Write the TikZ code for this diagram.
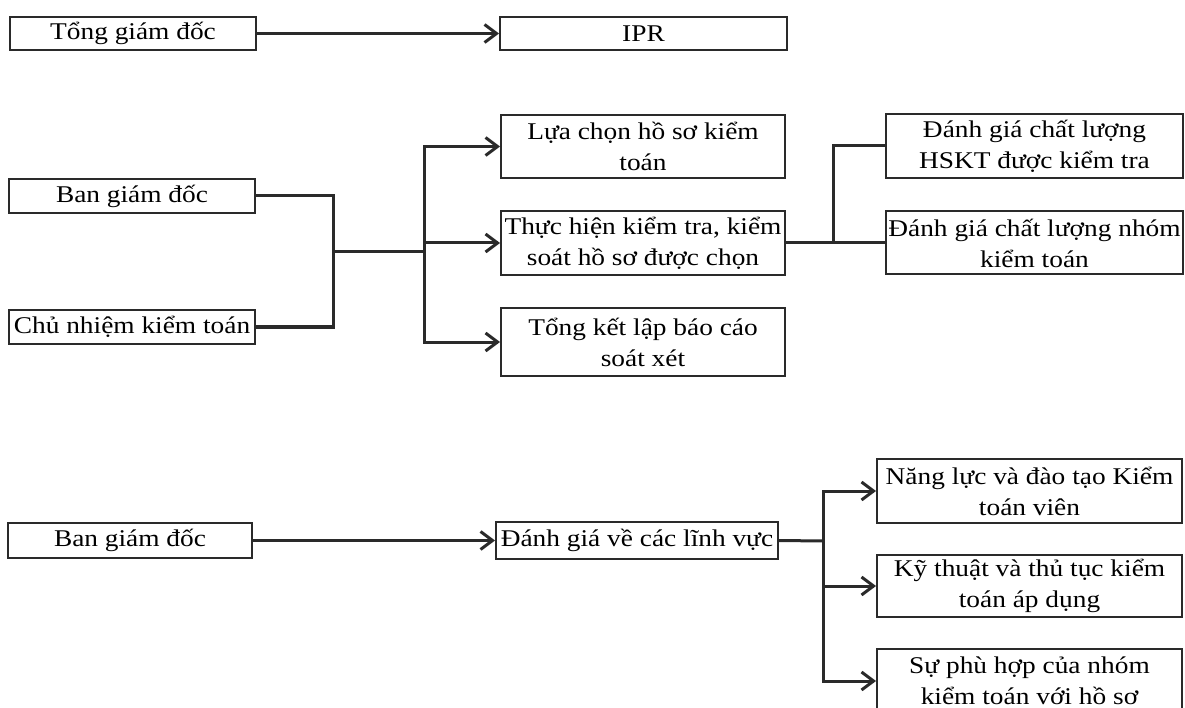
\documentclass[tikz,border=0pt]{standalone}
\usepackage{fontspec}
\setmainfont{Liberation Serif}[FakeStretch=1.14]
\usepackage{tikz}
\usetikzlibrary{arrows.meta}
\definecolor{ink}{HTML}{2A2A2A}

\begin{document}
\begin{tikzpicture}[x=1pt, y=-1pt,
		box/.style={draw=ink, line width=2pt, inner sep=0pt, align=center, font=\fontsize{24}{31}\selectfont},
		link/.style={draw=ink, line width=3pt, line cap=rect},
		arr/.style={link, -{Straight Barb[length=12pt, width=18pt]}}]
			\useasboundingbox (0,0) rectangle (1185,708);

			\node [box, minimum width=246pt, minimum height=33pt] (tgd) at (133,33.5) {Tổng giám đốc};
			\node [box, minimum width=287pt, minimum height=33pt] (ipr) at (643.5,33.5) {IPR};

			\node [box, minimum width=246pt, minimum height=34pt] (bgdA) at (132,196) {Ban giám đốc};
			\node [box, minimum width=246pt, minimum height=34pt] (cnkt) at (132,327) {Chủ nhiệm kiểm toán};
			\node [box, minimum width=284pt, minimum height=63pt] (lcs) at (643,146.5) {Lựa chọn hồ sơ kiểm\\toán};
			\node [box, minimum width=284pt, minimum height=64pt] (thkt) at (643,243) {Thực hiện kiểm tra, kiểm\\soát hồ sơ được chọn};
			\node [box, minimum width=284pt, minimum height=68pt] (tkbc) at (643,342) {Tổng kết lập báo cáo\\soát xét};
			\node [box, minimum width=297pt, minimum height=64pt] (dgA) at (1034.5,146) {Đánh giá chất lượng\\HSKT được kiểm tra};
			\node [box, minimum width=297pt, minimum height=63pt] (dgB) at (1034.5,243) {Đánh giá chất lượng nhóm\\kiểm toán};

			\node [box, minimum width=244pt, minimum height=35pt] (bgdB) at (130,540.5) {Ban giám đốc};
			\node [box, minimum width=282pt, minimum height=37pt] (dglv) at (637,540.5) {Đánh giá về các lĩnh vực};
			\node [box, minimum width=305pt, minimum height=64pt] (nlkt) at (1029.5,491) {Năng lực và đào tạo Kiểm\\toán viên};
			\node [box, minimum width=305pt, minimum height=62pt] (ktta) at (1029.5,586) {Kỹ thuật và thủ tục kiểm\\toán áp dụng};
			\node [box, minimum width=305pt, minimum height=64pt] (sph) at (1029.5,681) {Sự phù hợp của nhóm\\kiểm toán với hồ sơ};

			\draw [arr] (tgd.east) to (ipr.west);

			\coordinate (jA) at (333,252);
			\coordinate (jB) at (424,252);
			\draw [link] (bgdA.east) -| (jA) |- (cnkt.east);
			\draw [link] (jA) to (jB);
			\draw [link] (jB |- lcs.west) to (jB |- tkbc.west);
			\foreach \n in {lcs, thkt, tkbc}
				\draw [arr] (jB |- \n.west) to (\n.west);

			\coordinate (jC) at (833,243);
			\draw [link] (thkt.east) to (dgB.west);
			\draw [link] (jC) |- (dgA.west);

			\draw [arr] (bgdB.east) to (dglv.west);
			\coordinate (jD) at (823,541);
			\draw [link] (dglv.east) to (jD);
			\draw [link] (jD |- nlkt.west) to (jD |- sph.west);
			\foreach \n in {nlkt, ktta, sph}
				\draw [arr] (jD |- \n.west) to (\n.west);
		\end{tikzpicture}
\end{document}
